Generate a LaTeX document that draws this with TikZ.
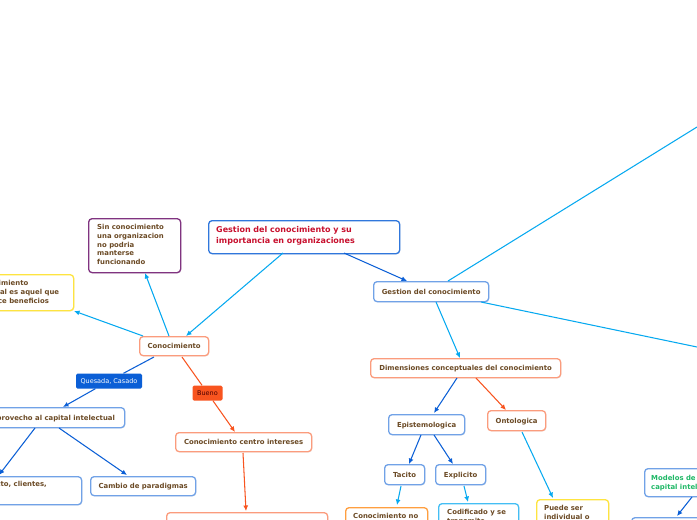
\documentclass[tikz,border=0pt]{standalone}
\usepackage{fontspec}
\setmainfont{DejaVu Sans}
\usetikzlibrary{arrows.meta,shadows}
\definecolor{cblue}{HTML}{0B5FD6}
\definecolor{csky}{HTML}{06A9F0}
\definecolor{cred}{HTML}{F8541F}
\definecolor{cbrown}{HTML}{6B4A25}
\definecolor{ctitle}{HTML}{C8102E}
\definecolor{cgreen}{HTML}{1FB866}
\tikzset{x=1pt,y=-1pt,
 txt/.style={font=\fontsize{6.9}{8.6}\selectfont\bfseries,text=cbrown,align=left,anchor=north west,inner sep=0pt},
 box/.style={draw=#1,line width=1.3pt,rounded corners=3.5pt,fill=white,inner sep=0pt,anchor=north west,
   font=\fontsize{6.9}{8.6}\selectfont\bfseries,text=cbrown,text height=6pt,text depth=1pt,
   drop shadow={opacity=.14,shadow xshift=.6pt,shadow yshift=-.8pt}},
 boxblue/.style={box=cblue!58},
 boxred/.style={box=cred!58},
 boxyellow/.style={box=yellow!80!orange!75},
 boxsky/.style={box=csky!75},
 boxorange/.style={box=orange!75},
 boxpurple/.style={box=violet!60!gray},
 link/.style={line width=1.05pt,-{Latex[length=5.5pt,width=5pt]}},
 plain/.style={line width=1.05pt},
 tag/.style={rounded corners=1.5pt,text=#1,font=\fontsize{6.5}{7}\selectfont,inner sep=0pt,minimum height=15pt},
}
\begin{document}
\begin{tikzpicture}
\useasboundingbox (0,0) rectangle (697,520);
\clip (0,0) rectangle (697,520);
\fill[white] (0,0) rectangle (697,520);
\node[box=cblue!85,minimum width=191pt,minimum height=33pt] (root) at (208,220) {};
\node[font=\fontsize{8}{11.3}\selectfont\bfseries,text=ctitle,align=left,anchor=north west,inner sep=0pt] (roottext) at (216,226) {Gestion del conocimiento y su\\importancia en organizaciones};
\node[boxpurple,minimum width=92pt,minimum height=54pt] (sin) at (88,218) {};
\node[txt] (sintext) at (97,224.5) {Sin conocimiento\\una organizacion\\no podria\\manterse\\funcionando};
\node[boxyellow,minimum width=90pt,minimum height=36pt] (esen) at (-17,274) {};
\node[txt] (esentext) at (-25,280.5) {Conocimiento\\esencial es aquel que\\produce beneficios};
\node[boxred,minimum width=69pt,minimum height=19pt] (con) at (139,336) {Conocimiento};
\node[boxblue,minimum width=143pt,minimum height=20pt] (apro) at (-19,407) {Aprovecho al capital intelectual};
\node[boxblue,minimum width=100pt,minimum height=28pt] (prod) at (-19,476) {};
\node[txt,anchor=north east] (prodtext) at (47,481.5) {Producto, clientes,};
\node[boxblue,minimum width=105pt,minimum height=19pt] (camb) at (90,476) {Cambio de paradigmas};
\node[boxred,minimum width=136pt,minimum height=19pt] (cci) at (175,432) {Conocimiento centro intereses};
\node[boxred,minimum width=161pt,minimum height=30pt] (comp) at (166,512) {};
\node[boxblue,minimum width=115pt,minimum height=20pt] (ges) at (373,281) {Gestion del conocimiento};
\node[boxred,minimum width=190pt,minimum height=19pt] (dim) at (370,358) {Dimensiones conceptuales del conocimiento};
\node[boxblue,minimum width=76pt,minimum height=20pt] (epi) at (388,414) {Epistemologica};
\node[boxred,minimum width=58pt,minimum height=20pt] (ont) at (487,410) {Ontologica};
\node[boxblue,minimum width=40pt,minimum height=20pt] (tac) at (384,464) {Tacito};
\node[boxblue,minimum width=50pt,minimum height=20pt] (exp) at (435,464) {Explicito};
\node[boxorange,minimum width=82pt,minimum height=30pt] (cno) at (345,507) {};
\node[txt] (cnotext) at (353,513) {Conocimiento no};
\node[boxsky,minimum width=80pt,minimum height=40pt] (cod) at (438,503) {};
\node[txt] (codtext) at (447,509) {Codificado y se\\transmite};
\node[boxyellow,minimum width=72pt,minimum height=40pt] (pue) at (536,499) {};
\node[txt] (puetext) at (544,505.5) {Puede ser\\individual o};
\node[boxblue,minimum width=80pt,minimum height=28pt] (mod) at (644,468) {};
\node[txt,text=cgreen] (modtext) at (651,475) {Modelos de\\capital intelectual};
\node[boxblue,minimum width=90pt,minimum height=30pt] (skan) at (631,517) {};
\coordinate (e1) at (697,127);
\coordinate (e2) at (697,347);
\node[tag=white,fill=cblue,minimum width=66pt] (q) at (109,381) {Quesada, Casado};
\node[tag=black!70!red,fill=cred,minimum width=30pt] (b) at (207.5,393) {Bueno};
\draw[link,csky] (283,253) -- (186,336);
\draw[link,cblue] (344,253) -- (407,281);
\draw[link,csky] (169,336) -- (145,273);
\draw[link,csky] (143,336) -- (74,311);
\draw[plain,cblue] (154,357) -- (q);
\draw[link,cblue] (q) -- (63,407);
\draw[plain,cred] (182,357) -- (b);
\draw[link,cred] (b) -- (235,432);
\draw[link,cblue] (35,428) -- (-1,475);
\draw[link,cblue] (59,428) -- (127,475);
\draw[link,cred] (243,453) -- (246,511);
\draw[plain,csky] (448,281) -- (e1);
\draw[plain,csky] (481,302) -- (e2);
\draw[link,csky] (436,302) -- (460,358);
\draw[link,cblue] (457,378) -- (434,413);
\draw[link,cred] (476,378) -- (506,410);
\draw[link,cblue] (421,435) -- (409,464);
\draw[link,cblue] (434,435) -- (453,464);
\draw[link,csky] (401,486) -- (397,505);
\draw[link,csky] (464,486) -- (468,502);
\draw[link,csky] (522,432) -- (553,498);
\draw[link,cblue] (692,497) -- (677,516);
\end{tikzpicture}
\end{document}
